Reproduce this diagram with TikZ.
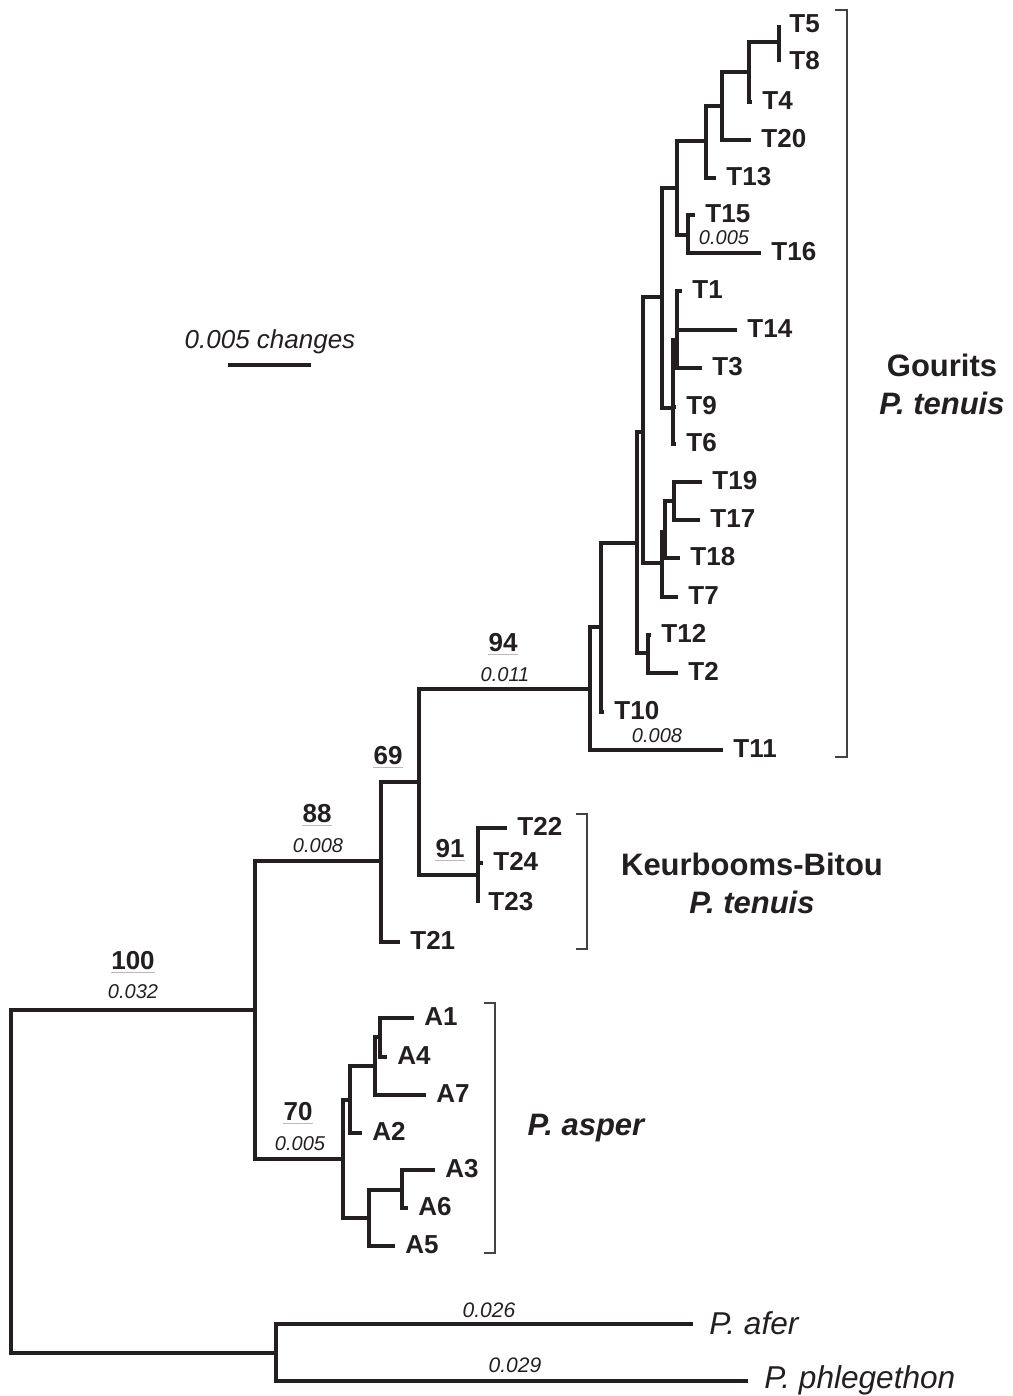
\documentclass[tikz,border=0pt]{standalone}
\usepackage{fontspec}
\setmainfont{Liberation Sans}
\usetikzlibrary{positioning}
\definecolor{ink}{RGB}{35,31,32}

\tikzset{
  branch/.style={line width=1.6pt, draw=ink},
  tip/.style={anchor=west, inner sep=0pt, yshift=0.8pt, text=ink,
    font=\fontsize{13}{15}\selectfont\bfseries},
  supp/.style={anchor=base, inner sep=0pt, text=ink,
    font=\fontsize{13}{15}\selectfont\bfseries},
  blen/.style={anchor=base, inner sep=0pt, text=ink,
    font=\fontsize{10}{12}\selectfont\itshape},
  grp/.style={align=center, inner sep=0pt, text=ink,
    font=\fontsize{15.5}{19}\selectfont\bfseries},
  outgrp/.style={anchor=base west, inner sep=0pt, xshift=8pt, yshift=-5.4pt, text=ink,
    font=\fontsize{15.8}{18}\selectfont\itshape},
  bracket/.style={line width=1pt, draw=ink!85},
  uline/.style={line width=0.5pt, draw=gray!55},
}

\begin{document}
\begin{tikzpicture}[x=0.5pt, y=-0.5pt, line join=miter]
    \useasboundingbox (0,0) rectangle (1012,1396);

    % internal nodes
    \coordinate (root) at (11,1181);
    \coordinate (n100) at (255,1010);
    \coordinate (nout) at (276,1353);
    \coordinate (n88) at (381,861);
    \coordinate (n70) at (343,1159);
    \coordinate (n69) at (419,782);
    \coordinate (n94) at (590,689);
    \coordinate (n91) at (478,875);
    \coordinate (nA) at (601,627);
    \coordinate (nB) at (637,543);
    \coordinate (nC) at (643,432);
    \coordinate (nT) at (648,653);
    \coordinate (nD) at (662,297);
    \coordinate (nE) at (662,563);
    \coordinate (nF) at (677,188);
    \coordinate (nG) at (673,408);
    \coordinate (nH) at (706,141);
    \coordinate (nI) at (688,235);
    \coordinate (nJ) at (722,106);
    \coordinate (nK) at (749,72);
    \coordinate (nL) at (779,42);
    \coordinate (nM) at (677,340);
    \coordinate (nN) at (665,532);
    \coordinate (nO) at (674,501);
    \coordinate (nP) at (350,1100);
    \coordinate (nQ) at (369,1218);
    \coordinate (nR) at (375,1066);
    \coordinate (nS) at (380,1037);
    \coordinate (nU) at (402,1190);

    % tips
    \coordinate (T5) at (779,25);
    \coordinate (T8) at (779,62);
    \coordinate (T4) at (752,102);
    \coordinate (T20) at (751,140);
    \coordinate (T13) at (716,178);
    \coordinate (T15) at (695,215);
    \coordinate (T16) at (761,253);
    \coordinate (T1) at (682,291);
    \coordinate (T14) at (737,330);
    \coordinate (T3) at (702,368);
    \coordinate (T9) at (676,407);
    \coordinate (T6) at (676,444);
    \coordinate (T19) at (702,482);
    \coordinate (T17) at (700,520);
    \coordinate (T18) at (680,558);
    \coordinate (T7) at (678,597);
    \coordinate (T12) at (651,635);
    \coordinate (T2) at (678,673);
    \coordinate (T10) at (604,712);
    \coordinate (T11) at (723,750);
    \coordinate (T22) at (507,828);
    \coordinate (T24) at (483,863);
    \coordinate (T23) at (478,903);
    \coordinate (T21) at (400,942);
    \coordinate (A1) at (414,1018);
    \coordinate (A4) at (387,1057);
    \coordinate (A7) at (426,1095);
    \coordinate (A2) at (362,1133);
    \coordinate (A3) at (435,1170);
    \coordinate (A6) at (408,1208);
    \coordinate (A5) at (395,1246);
    \coordinate (afer) at (693,1324);
    \coordinate (phleg) at (748,1381);

    % branches
    \foreach \p/\c in {root/n100, root/nout, n100/n88, n100/n70, n88/n69, n88/T21,
        n69/n94, n69/n91, n94/nA, n94/T11, nA/nB, nA/T10, nB/nC, nB/nT, nT/T12, nT/T2,
        nC/nD, nC/nE, nD/nF, nD/nG, nF/nH, nF/nI, nH/nJ, nH/T13, nJ/nK, nJ/T20,
        nK/nL, nK/T4, nL/T5, nL/T8, nI/T15, nI/T16, nG/nM, nG/T9, nG/T6,
        nM/T1, nM/T14, nM/T3, nE/nN, nE/T7, nN/nO, nN/T18, nO/T19, nO/T17,
        n91/T22, n91/T24, n91/T23, n70/nP, n70/nQ, nP/nR, nP/A2, nR/nS, nR/A7,
        nS/A1, nS/A4, nQ/nU, nQ/A5, nU/A3, nU/A6, nout/afer, nout/phleg}
      \draw[branch] (\p) |- (\c);

    % tip labels
    \foreach \t in {T1,T2,T3,T4,T5,T6,T7,T8,T9,T10,T11,T12,T13,T14,T15,T16,T17,
        T18,T19,T20,T21,T22,T23,T24,A1,A2,A3,A4,A5,A6,A7}
      \node[tip, right=5pt of \t] (l\t) {\t};
    \node[outgrp] (lafer) at (afer) {P. afer};
    \node[outgrp, yshift=1.5pt] (lphleg) at (phleg) {P. phlegethon};

    % support values
    \node[supp] (s100) at (133,969) {100};
    \node[supp] (s88) at (317,822) {88};
    \node[supp] (s69) at (388,764) {69};
    \node[supp] (s94) at (503,651) {94};
    \node[supp] (s91) at (450,857) {91};
    \node[supp] (s70) at (298,1120) {70};
    \foreach \s in {s100,s88,s69,s94,s91,s70}
      \draw[uline] ([yshift=-1.5pt]\s.base west) -- ([yshift=-1.5pt]\s.base east);

    % branch lengths
    \node[blen] (b100) at (133,998) {0.032};
    \node[blen] (b88) at (318,852) {0.008};
    \node[blen] (b94) at (505,681) {0.011};
    \node[blen] (b70) at (300,1150) {0.005};
    \node[blen] (b16) at (724,244) {0.005};
    \node[blen] (b11) at (657,742) {0.008};
    \node[blen, font=\fontsize{10.5}{12}\selectfont\itshape] (bafer) at (489,1317) {0.026};
    \node[blen, font=\fontsize{10.5}{12}\selectfont\itshape] (bphleg) at (515,1372) {0.029};

    % scale bar
    \coordinate (sbl) at (228,365);
    \coordinate (sbr) at (311,365);
    \draw[branch] (sbl) -- (sbr);
    \node[blen, font=\fontsize{13}{15}\selectfont\itshape] (sbt) at (270,348) {0.005 changes};

    % clade brackets
    \draw[bracket] (835,10) -- (847,10) -- (847,757) -- (835,757);
    \draw[bracket] (576,814) -- (587,814) -- (587,949) -- (576,949);
    \draw[bracket] (484,1003) -- (495,1003) -- (495,1253) -- (484,1253);

    \node[grp] (gour) at (942,384) {Gourits\\\textit{P. tenuis}};
    \node[grp] (keur) at (752,883) {Keurbooms-Bitou\\\textit{P. tenuis}};
    \node[grp, font=\fontsize{15.5}{19}\selectfont\bfseries\itshape] (asp) at (586,1128) {P. asper};
\end{tikzpicture}
\end{document}
